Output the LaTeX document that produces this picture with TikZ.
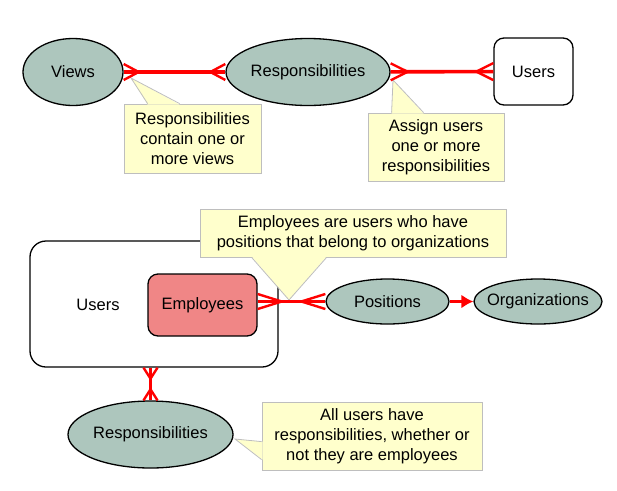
\documentclass[tikz,border=0pt]{standalone}
\usepackage{fontspec}
\setmainfont{Liberation Sans}
\usetikzlibrary{shapes.geometric, arrows.meta, decorations.markings, calc}
\definecolor{entgreen}{RGB}{173,198,189}
\definecolor{notefill}{RGB}{255,255,204}
\definecolor{noteedge}{RGB}{190,190,190}
\definecolor{empred}{RGB}{240,134,134}

\begin{document}
\begin{tikzpicture}[x = 1pt, y = -1pt, font = \fontsize{16.5}{20}\selectfont]
  \tikzset{
    entity/.style = {ellipse, draw, line width = 1.3pt, fill = entgreen, inner sep = 0pt},
    entbox/.style = {rectangle, rounded corners = 10pt, draw, line width = 1.3pt, inner sep = 0pt},
    note/.style = {rectangle, draw = noteedge, fill = notefill, line width = 0.8pt, align = center, inner sep = 0pt},
    pointer/.style = {draw = noteedge, line width = 0.8pt},
    rel/.style = {draw = red, line width = 3.6pt},
    crows/.style 2 args = {postaction = {decorate, decoration = {markings,
      mark = at position 0 with {\draw[red, line width = 2.4pt] (#1,0) -- (0,#2) (#1,0) -- (0,-#2);},
      mark = at position 0.9999 with {\draw[red, line width = 2.4pt] (-#1,0) -- (0,#2) (-#1,0) -- (0,-#2);}}}}
  }
  \useasboundingbox (0,0) rectangle (617,490);

  % top row
  \node[entity, minimum width = 100pt, minimum height = 67pt] (views) at (73,72) {Views};
  \node[entity, minimum width = 164pt, minimum height = 67pt] (resp) at (308,72) {Responsibilities};
  \node[entbox, minimum width = 79pt, minimum height = 67pt] (users) at (533.5,71.5) {Users};

  % bottom part
  \node[entbox, rounded corners = 16pt, minimum width = 248pt, minimum height = 126pt] (allusers) at (154,304) {};
  \node (userstext) at (98,305) {Users};
  \node[entbox, fill = empred, minimum width = 109pt, minimum height = 62pt] (emp) at (202.5,305) {Employees};
  \node[entity, minimum width = 123pt, minimum height = 45pt] (pos) at (387.5,301.5) {Positions};
  \node[entity, inner xsep = -6pt, minimum width = 128pt, minimum height = 45pt] (org) at (538,301.5) {Organizations};
  \node[entity, minimum width = 165pt, minimum height = 67pt] (resp2) at (150.5,434.5) {Responsibilities};

  % notes
  \node[note, minimum width = 137pt, minimum height = 69pt] (note1) at (192.5,138.5) {Responsibilities\\contain one or\\more views};
  \coordinate (tip1) at (131,78);
  \fill[notefill] ($(note1.north west)+(24,1)$) -- (tip1) -- ($(note1.north west)+(56,1)$) -- cycle;
  \draw[pointer] ($(note1.north west)+(24,0)$) -- (tip1) -- ($(note1.north west)+(56,0)$);

  \node[note, minimum width = 136pt, minimum height = 68pt] (note2) at (436,147) {Assign users\\one or more\\responsibilities};
  \coordinate (tip2) at (393,80);
  \fill[notefill] ($(note2.north west)+(24,1)$) -- (tip2) -- ($(note2.north west)+(56,1)$) -- cycle;
  \draw[pointer] ($(note2.north west)+(24,0)$) -- (tip2) -- ($(note2.north west)+(56,0)$);

  \node[note, minimum width = 306pt, minimum height = 48pt] (note3) at (353,233) {Employees are users who have\\positions that belong to organizations};
  \coordinate (tip3) at (289,300);
  \fill[notefill] ($(note3.south west)+(52,-1)$) -- (tip3) -- ($(note3.south west)+(127,-1)$) -- cycle;
  \draw[pointer] ($(note3.south west)+(52,0)$) -- (tip3) -- ($(note3.south west)+(127,0)$);

  \node[note, minimum width = 220pt, minimum height = 68pt] (note4) at (372,436) {All users have\\responsibilities, whether or\\not they are employees};
  \coordinate (tip4) at (235,439);
  \fill[notefill] ($(note4.north west)+(1,40)$) -- (tip4) -- ($(note4.north west)+(1,58)$) -- cycle;
  \draw[pointer] ($(note4.north west)+(0,40)$) -- (tip4) -- ($(note4.north west)+(0,58)$);

  % relationships
  \draw[rel, crows = {15}{8}] (views) -- (resp);
  \draw[rel, crows = {17}{8.5}] (resp) -- (users);
  \draw[rel, crows = {24}{7.5}] (emp.east |- pos) -- (pos.west);
  \draw[rel, line width = 3pt, -{Latex[length = 12pt, width = 14pt]}] (pos) -- (org);
  \draw[rel, crows = {11}{7}] (allusers.south -| resp2) -- (resp2.north);
\end{tikzpicture}
\end{document}
